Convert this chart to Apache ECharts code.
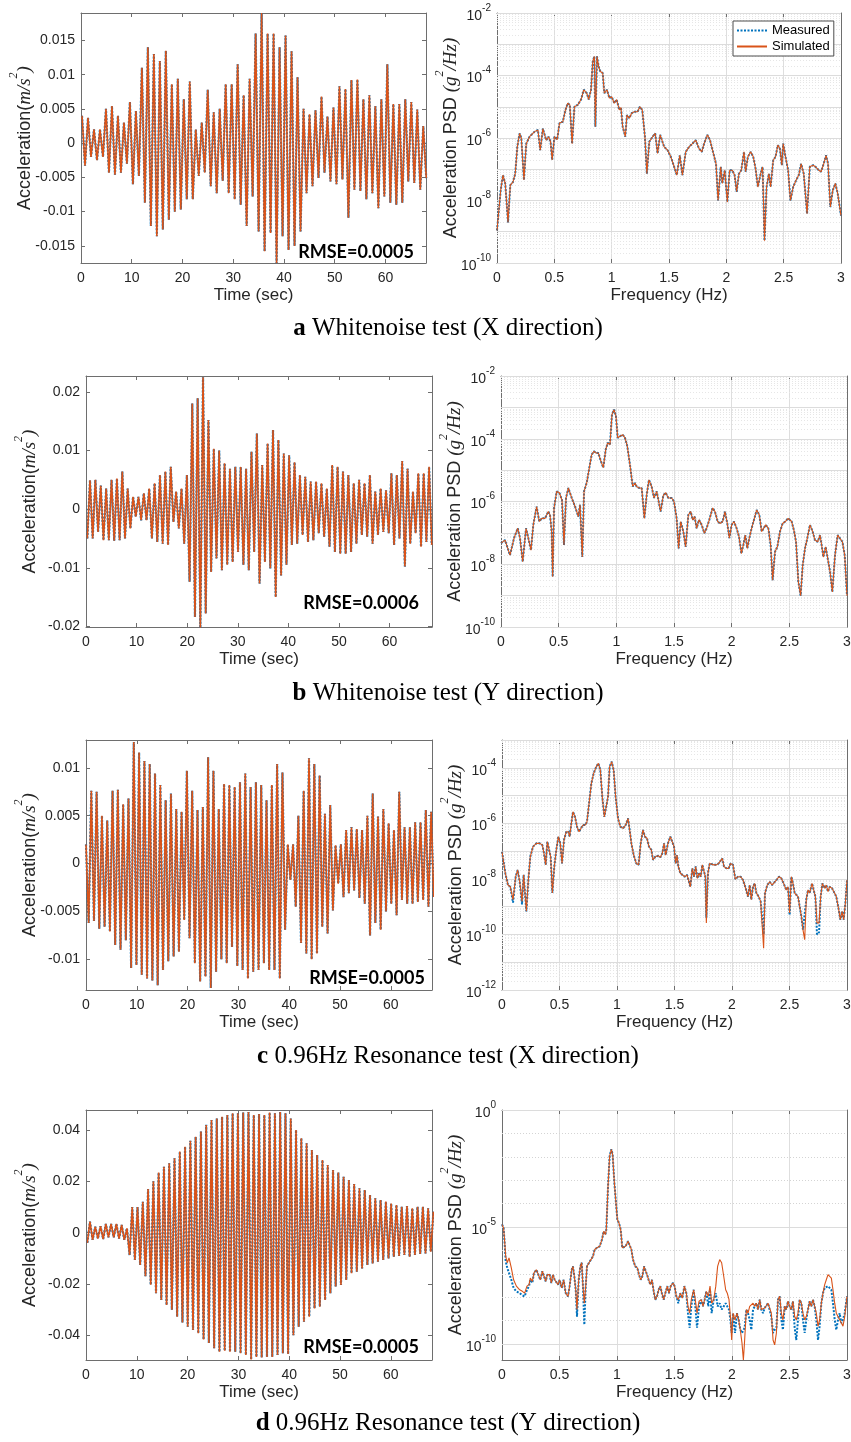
<!DOCTYPE html>
<html lang="en">
<head>
<meta charset="UTF-8">
<title>Measured vs simulated acceleration and PSD</title>
<script src="https://cdn.jsdelivr.net/npm/echarts@6/dist/echarts.min.js"></script>
<style>
    body { margin: 0; background: #ffffff; }
    #main { width: 851px; height: 1442px; }
</style>
</head>
<body>
<div id="main"></div>
<script>
// ---------- data ----------
var timeTicks = [0, 10, 20, 30, 40, 50, 60];
var freqTicks = [0, 0.5, 1, 1.5, 2, 2.5, 3];

// (a) Whitenoise X : alternating peaks of the acceleration record
var aUp = [0.004,0.0037,0.002,0.002,0.005,0.0054,0.004,0.003,0.006,0.0047,0.011,0.014,0.013,0.012,0.0135,0.0086,0.0094,0.0064,0.009,0.002,0.003,0.0078,0.0045,0.005,0.0086,0.0086,0.0115,0.007,0.0094,0.016,0.019,0.016,0.016,0.014,0.0157,0.0134,0.0096,0.005,0.0042,0.0048,0.0068,0.0039,0.0052,0.0083,0.0079,0.0092,0.0093,0.0064,0.007,0.0054,0.0064,0.0115,0.0057,0.0057,0.0064,0.006,0.0049,0.0025];
var aDown = [-0.0033,-0.002,-0.0025,-0.002,-0.0043,-0.0046,-0.0043,-0.003,-0.006,-0.0048,-0.0087,-0.0121,-0.0136,-0.0126,-0.0112,-0.01,-0.0097,-0.0082,-0.0082,-0.0048,-0.0043,-0.0063,-0.0073,-0.0055,-0.0073,-0.0082,-0.009,-0.0121,-0.0078,-0.0129,-0.0158,-0.0131,-0.0175,-0.0136,-0.0156,-0.015,-0.0129,-0.0073,-0.0063,-0.0051,-0.0043,-0.0056,-0.006,-0.0053,-0.0109,-0.0068,-0.007,-0.0082,-0.0073,-0.0095,-0.0078,-0.0087,-0.009,-0.0087,-0.0056,-0.0058,-0.0068,-0.0051];
var aTicksY = [-0.015, -0.01, -0.005, 0, 0.005, 0.01, 0.015];

var psdAFreq = [0,0.032,0.052,0.072,0.096,0.116,0.139,0.159,0.177,0.197,0.212,0.235,0.255,0.284,0.328,0.357,0.377,0.4,0.429,0.449,0.467,0.481,0.501,0.525,0.545,0.574,0.597,0.617,0.635,0.655,0.675,0.704,0.733,0.757,0.783,0.8,0.82,0.835,0.849,0.858,0.872,0.887,0.901,0.922,0.936,0.959,0.98,1.0,1.023,1.043,1.067,1.081,1.096,1.119,1.133,1.154,1.174,1.197,1.226,1.246,1.267,1.29,1.307,1.328,1.357,1.38,1.4,1.423,1.438,1.458,1.487,1.516,1.545,1.568,1.594,1.617,1.646,1.675,1.704,1.733,1.762,1.786,1.806,1.835,1.858,1.887,1.91,1.928,1.951,1.965,1.986,2.009,2.029,2.052,2.072,2.09,2.11,2.13,2.154,2.168,2.188,2.212,2.235,2.255,2.275,2.299,2.316,2.333,2.351,2.371,2.386,2.409,2.429,2.449,2.467,2.484,2.496,2.516,2.539,2.559,2.583,2.609,2.632,2.652,2.675,2.704,2.728,2.757,2.777,2.806,2.826,2.849,2.87,2.887,2.907,2.928,2.951,2.971,3.0];
var psdA = [1.1e-9,2.1e-8,6.5e-8,3.5e-8,2e-9,3.1e-8,3.9e-8,7.2e-8,5.2e-7,1.4e-6,1e-6,4.5e-8,6.6e-7,1.1e-6,1.6e-6,1.8e-6,4.1e-7,2e-6,8.5e-7,1.1e-6,7.6e-7,2e-7,1.1e-6,8.9e-7,3e-6,3.3e-6,7.9e-6,1.3e-5,1.15e-5,6.6e-7,1e-5,1.15e-5,1.7e-5,3.5e-5,2.7e-5,1.7e-5,3.5e-5,2.8e-4,4.1e-4,2.3e-6,4.1e-4,1.9e-4,1.35e-4,1.2e-4,2.7e-5,3.5e-5,1.9e-5,2.1e-5,1.3e-5,1.7e-5,7.9e-6,9.5e-6,2.3e-6,1.1e-6,5.4e-6,4.3e-6,6.2e-6,6.9e-6,6.9e-6,1e-5,7.9e-6,1.1e-6,7.2e-8,7.6e-7,1.1e-6,1.4e-6,3.2e-7,1.26e-6,1.4e-6,5.2e-7,4.1e-7,2.5e-7,1.2e-7,6.5e-8,2.8e-7,6.5e-8,3.6e-7,5.2e-7,6.6e-7,8.5e-7,4.6e-7,3.6e-7,6.6e-7,1.26e-6,8.5e-7,3.2e-7,1.5e-7,1e-8,1.2e-7,3.5e-8,9.3e-8,8.9e-9,9.3e-8,9.3e-8,6.5e-8,1.9e-8,7.2e-8,9.3e-8,3.6e-7,8.3e-8,2.5e-7,3.6e-7,2.5e-7,1.05e-7,2.7e-8,7.2e-8,1.2e-7,5.2e-10,2.7e-8,7.2e-8,2.7e-8,1.95e-7,2.5e-7,5.9e-7,4.6e-7,1.35e-7,6.6e-7,2.5e-7,9.3e-8,1e-8,2.7e-8,4.5e-8,6.5e-8,1.5e-7,7.2e-8,3.8e-9,1.2e-7,1.35e-7,1.2e-7,9.3e-8,8.3e-8,1.5e-7,2.8e-7,1.5e-7,6.2e-9,2.1e-8,3.5e-8,1.7e-8,3.3e-9];

// (b) Whitenoise Y
var bDown = [-0.005,-0.005,-0.0039,-0.0053,-0.0053,-0.0054,-0.0053,-0.005,-0.0033,-0.0013,-0.0019,-0.0019,-0.005,-0.0056,-0.0059,-0.0061,-0.0022,-0.0033,-0.0059,-0.0124,-0.0184,-0.0203,-0.0178,-0.0107,-0.0084,-0.0104,-0.0095,-0.009,-0.0073,-0.0095,-0.0104,-0.0073,-0.0127,-0.009,-0.0101,-0.015,-0.0113,-0.0095,-0.0061,-0.0059,-0.0044,-0.0056,-0.0053,-0.0041,-0.0047,-0.0064,-0.0073,-0.0076,-0.0076,-0.0073,-0.0059,-0.0044,-0.0047,-0.0059,-0.0044,-0.0039,-0.0041,-0.0061,-0.005,-0.0098,-0.0059,-0.0041,-0.0064,-0.0056,-0.0061];
var bUp = [0.0049,0.005,0.004,0.0035,0.005,0.0052,0.0064,0.0035,0.0021,0.0021,0.0027,0.0035,0.0044,0.0058,0.0064,0.0072,0.003,0.0035,0.0058,0.018,0.0189,0.0225,0.0152,0.0103,0.01,0.0078,0.0069,0.0072,0.0072,0.0069,0.0098,0.0129,0.0075,0.0112,0.0135,0.0118,0.0095,0.0092,0.008,0.0058,0.0055,0.0047,0.0047,0.0044,0.0035,0.0075,0.0072,0.0064,0.0058,0.0044,0.005,0.0044,0.0058,0.003,0.0035,0.0032,0.0061,0.0058,0.0082,0.0069,0.003,0.0061,0.0061,0.0072];
var bTicksY = [-0.02, -0.01, 0, 0.01, 0.02];

var psdBFreq = [0,0.035,0.078,0.113,0.145,0.165,0.188,0.217,0.237,0.26,0.28,0.309,0.332,0.353,0.382,0.41,0.425,0.439,0.448,0.46,0.483,0.506,0.529,0.546,0.564,0.584,0.613,0.642,0.671,0.685,0.705,0.72,0.743,0.766,0.786,0.806,0.824,0.844,0.867,0.887,0.908,0.925,0.945,0.962,0.98,0.997,1.012,1.032,1.055,1.075,1.095,1.118,1.142,1.162,1.176,1.197,1.22,1.243,1.263,1.283,1.306,1.327,1.35,1.364,1.384,1.408,1.428,1.451,1.48,1.5,1.523,1.54,1.558,1.581,1.601,1.624,1.645,1.662,1.679,1.696,1.717,1.74,1.763,1.783,1.806,1.835,1.855,1.879,1.899,1.922,1.942,1.962,1.98,2.0,2.02,2.043,2.064,2.084,2.101,2.118,2.136,2.153,2.173,2.197,2.217,2.24,2.26,2.275,2.295,2.318,2.338,2.355,2.376,2.396,2.419,2.442,2.465,2.49,2.52,2.54,2.558,2.578,2.598,2.616,2.636,2.656,2.679,2.702,2.722,2.746,2.766,2.78,2.795,2.815,2.832,2.853,2.873,2.896,2.919,2.936,2.96,2.98,3.0];
var psdB = [4.7e-8,5.9e-8,1.95e-8,6.8e-8,1.4e-7,6.8e-8,1.2e-8,1.4e-7,6.8e-8,2.8e-8,1.8e-7,6.9e-7,2.3e-7,2.9e-7,2.9e-7,4.8e-7,3.7e-7,1.1e-7,4e-9,6.2e-7,2.1e-6,1.9e-6,1.1e-6,4.1e-8,1.3e-6,2.7e-6,1.3e-6,6.9e-7,3.3e-7,7.8e-7,1.7e-8,2.1e-6,3.9e-6,1.2e-5,3.1e-5,4e-5,3.5e-5,3.5e-5,1.9e-5,1.2e-5,4.5e-5,7.4e-5,6.5e-5,5.9e-4,8.5e-4,5.2e-4,1.07e-4,1.2e-4,1.35e-4,1.07e-4,5.8e-5,1.5e-5,3e-6,3.9e-6,3e-6,2.7e-6,2.7e-6,2.9e-7,1.6e-6,4.9e-6,3e-6,1.3e-6,2.1e-6,1.9e-6,4.8e-7,1.6e-6,1.9e-6,1.3e-6,1.3e-6,1e-6,2.9e-7,3.2e-8,2.3e-7,1.1e-7,3.6e-8,3.7e-7,4.8e-7,2.6e-7,3.3e-7,1.4e-7,2.6e-7,1.8e-7,9.8e-8,1.4e-7,2.6e-7,6.2e-7,4.8e-7,2.3e-7,2e-7,2.3e-7,4.8e-7,2e-7,6.8e-8,1.8e-7,2.3e-7,1.4e-7,7.6e-8,2.2e-8,4.1e-8,8.5e-8,3.2e-8,6.8e-8,1.4e-7,2.9e-7,5.4e-7,3.7e-7,1.1e-7,9.8e-8,1.8e-7,1.4e-7,4.1e-8,3.1e-9,2.5e-8,3.6e-8,1.1e-7,2e-7,2.3e-7,2.9e-7,2.3e-7,1.2e-7,5.2e-8,2.8e-9,1e-9,9.3e-9,3.2e-8,6.8e-8,1.8e-7,1.1e-7,5.9e-8,5.2e-8,8.5e-8,4.1e-8,1.7e-8,3.6e-8,3.2e-8,5.8e-9,1.3e-9,1.95e-8,8.5e-8,8.5e-8,5.2e-8,1.95e-8,1e-9];

// (c) 0.96 Hz resonance X
var cUp = [0.002,0.0076,0.0075,0.005,0.0045,0.0076,0.0077,0.0062,0.0068,0.0127,0.0116,0.0107,0.0104,0.0094,0.0082,0.0066,0.0073,0.0057,0.0054,0.0097,0.0076,0.0056,0.0059,0.0111,0.0097,0.0057,0.0083,0.0082,0.008,0.0085,0.0094,0.008,0.0085,0.0082,0.0066,0.0082,0.0104,0.0095,0.002,0.002,0.005,0.0076,0.011,0.0104,0.0092,0.0052,0.0061,0.0019,0.002,0.0035,0.0038,0.0036,0.0035,0.005,0.0073,0.0049,0.0057,0.0042,0.0035,0.0075,0.0038,0.0038,0.0043,0.0043,0.0056,0.0054];
var cDown = [-0.0062,-0.006,-0.0068,-0.0066,-0.0071,-0.0085,-0.009,-0.008,-0.0109,-0.0106,-0.0116,-0.012,-0.0122,-0.0127,-0.0111,-0.0102,-0.0097,-0.0092,-0.0059,-0.0078,-0.0104,-0.0123,-0.0118,-0.013,-0.0113,-0.01,-0.0104,-0.0087,-0.0107,-0.0111,-0.012,-0.0113,-0.0111,-0.0104,-0.0111,-0.0111,-0.012,-0.0069,-0.0017,-0.0045,-0.0083,-0.0094,-0.01,-0.0094,-0.0066,-0.0073,-0.0049,-0.0021,-0.0035,-0.0031,-0.0028,-0.0036,-0.0042,-0.0075,-0.0062,-0.0069,-0.005,-0.0042,-0.0054,-0.0038,-0.0042,-0.0042,-0.004,-0.0038,-0.0045,-0.0035];
var cTicksY = [-0.01, -0.005, 0, 0.005, 0.01];

var psdCFreq = [0,0.014,0.029,0.052,0.072,0.096,0.119,0.136,0.154,0.174,0.188,0.212,0.229,0.246,0.27,0.299,0.328,0.351,0.365,0.38,0.394,0.409,0.423,0.438,0.455,0.472,0.49,0.507,0.522,0.539,0.559,0.577,0.588,0.603,0.617,0.635,0.652,0.67,0.687,0.704,0.725,0.739,0.757,0.777,0.797,0.82,0.838,0.855,0.872,0.89,0.904,0.922,0.936,0.954,0.971,0.988,1.009,1.029,1.052,1.075,1.096,1.11,1.125,1.145,1.168,1.188,1.206,1.226,1.243,1.261,1.278,1.299,1.313,1.333,1.357,1.377,1.394,1.409,1.423,1.443,1.464,1.481,1.496,1.51,1.522,1.533,1.551,1.568,1.588,1.609,1.626,1.638,1.655,1.67,1.684,1.699,1.713,1.728,1.742,1.757,1.768,1.777,1.791,1.806,1.82,1.841,1.864,1.884,1.901,1.916,1.93,1.951,1.971,1.988,2.009,2.029,2.052,2.075,2.096,2.119,2.139,2.154,2.168,2.183,2.197,2.212,2.232,2.249,2.264,2.275,2.287,2.307,2.328,2.348,2.365,2.386,2.409,2.429,2.449,2.472,2.487,2.501,2.516,2.53,2.545,2.559,2.574,2.588,2.603,2.617,2.632,2.646,2.661,2.675,2.696,2.71,2.725,2.739,2.757,2.771,2.786,2.806,2.82,2.835,2.849,2.87,2.887,2.907,2.928,2.942,2.957,2.971,2.986,3.0];
var psdCSim = [9.5e-8,8.3e-8,1.6e-8,6e-9,5.2e-9,1.8e-9,1.2e-8,2.1e-8,7.9e-9,1.55e-9,1.4e-8,6.8e-10,9.1e-9,6.3e-8,1.45e-7,1.9e-7,1.9e-7,1.65e-7,8.3e-8,3.2e-8,2.2e-7,2.2e-7,6.3e-8,3.1e-9,2.8e-8,1.1e-7,3.3e-7,1.9e-7,3.6e-8,2.5e-7,5e-7,5e-7,3.3e-7,1e-6,2.6e-6,1.7e-6,7.6e-7,5e-7,6.6e-7,8.7e-7,8.7e-7,1.15e-6,5.2e-6,2.75e-5,6.3e-5,1.1e-4,1.45e-4,8.3e-5,9.1e-6,1.7e-6,2e-6,9.1e-6,1.1e-4,1.65e-4,8.3e-5,9.1e-6,1.5e-6,7.6e-7,6.6e-7,8.7e-7,1.5e-6,5.8e-7,1.9e-7,7.2e-8,3.6e-8,3.2e-8,1.9e-7,5.8e-7,3.3e-7,2.9e-7,1.45e-7,1.1e-7,4.8e-8,6.3e-8,6.8e-8,6e-8,8.3e-8,1.9e-7,7.2e-8,1.9e-7,3.3e-7,2.9e-7,1.45e-7,3.6e-8,7.2e-8,2.8e-8,1.6e-8,1.8e-8,1.2e-8,1.4e-8,7.9e-9,5.2e-9,2.4e-8,1.2e-8,2.8e-8,1.05e-8,1.6e-8,1.2e-8,3.2e-8,3.6e-8,1.2e-8,2.6e-10,1.6e-8,3.6e-8,4.2e-8,3.2e-8,3.2e-8,3.6e-8,4.2e-8,5.5e-8,2.8e-8,2.4e-8,2.4e-8,3.6e-8,3.2e-8,9.8e-9,1.2e-8,1.2e-8,9.1e-9,4.6e-9,2.3e-9,6e-9,1.8e-9,5.2e-9,6.9e-9,3.1e-9,2.3e-9,1.55e-9,1.35e-9,3.2e-11,3.1e-9,6e-9,7.9e-9,6e-9,6.9e-9,9.1e-9,1.2e-8,1.05e-8,6.9e-9,4e-9,5.2e-9,5.9e-10,1.2e-8,6.9e-9,3.1e-9,3.1e-9,2.3e-9,2.3e-9,4.5e-10,1.5e-10,6.5e-11,1.8e-9,4e-9,3.1e-9,6.9e-9,4e-9,2.3e-9,2.6e-10,2.6e-10,2.3e-9,6.9e-9,4.6e-9,6e-9,3.5e-9,5.2e-9,4.6e-9,5.2e-9,2.3e-9,7.8e-10,3.4e-10,6.8e-10,3.4e-10,1.35e-9,9.1e-9];
var psdCMeas = [9.5e-8,8.3e-8,1.6e-8,6e-9,5.2e-9,1.4e-9,1.2e-8,2.1e-8,7.9e-9,1.2e-9,1.4e-8,6.8e-10,9.1e-9,6.3e-8,1.45e-7,1.9e-7,1.9e-7,1.65e-7,8.3e-8,3.2e-8,2.2e-7,2.2e-7,6.3e-8,3.1e-9,2.8e-8,1.1e-7,3.3e-7,1.9e-7,3.6e-8,2.5e-7,5e-7,5e-7,3.3e-7,1e-6,2.6e-6,1.7e-6,7.6e-7,5e-7,6.6e-7,8.7e-7,8.7e-7,1.15e-6,5.2e-6,2.75e-5,6.3e-5,1.1e-4,1.45e-4,8.3e-5,9.1e-6,1.7e-6,2e-6,9.1e-6,1.1e-4,1.65e-4,8.3e-5,9.1e-6,1.5e-6,7.6e-7,6.6e-7,8.7e-7,1.5e-6,5.8e-7,1.9e-7,7.2e-8,3.6e-8,3.2e-8,1.9e-7,5.8e-7,3.3e-7,2.9e-7,1.45e-7,1.1e-7,4.8e-8,6.3e-8,6.8e-8,6e-8,8.3e-8,1.9e-7,7.2e-8,1.9e-7,3.3e-7,2.9e-7,1.45e-7,3.6e-8,7.2e-8,2.8e-8,1.6e-8,1.8e-8,1.2e-8,1.4e-8,7.9e-9,5.2e-9,2.4e-8,1.2e-8,2.8e-8,1.05e-8,1.6e-8,1.2e-8,3.2e-8,3.6e-8,1.2e-8,4e-10,1.6e-8,3.6e-8,4.2e-8,3.2e-8,3.2e-8,3.6e-8,4.2e-8,5.5e-8,2.8e-8,2.4e-8,2.4e-8,3.6e-8,3.2e-8,9.8e-9,1.2e-8,1.2e-8,9.1e-9,4.6e-9,2.3e-9,6e-9,1.8e-9,5.2e-9,6.9e-9,3.1e-9,2.3e-9,1.55e-9,1.35e-9,1e-10,3.1e-9,6e-9,7.9e-9,6e-9,6.9e-9,9.1e-9,1.2e-8,1.05e-8,6.9e-9,4e-9,5.2e-9,5e-10,1.2e-8,6.9e-9,3.1e-9,3.1e-9,2.3e-9,2.3e-9,4.5e-10,1.5e-10,1.5e-10,1.8e-9,4e-9,3.1e-9,6.9e-9,4e-9,2.3e-9,1e-10,1.2e-10,2.3e-9,6.9e-9,4.6e-9,6e-9,3.5e-9,5.2e-9,4.6e-9,5.2e-9,2.3e-9,7.8e-10,3.4e-10,6.8e-10,3.4e-10,1.35e-9,9.1e-9];

// (d) 0.96 Hz resonance Y
var dDown = [-0.004,-0.0028,-0.0023,-0.0025,-0.0018,-0.0018,-0.0023,-0.0028,-0.0087,-0.0106,-0.0126,-0.017,-0.0203,-0.0236,-0.0262,-0.0282,-0.03,-0.0327,-0.035,-0.0366,-0.0379,-0.0392,-0.0416,-0.043,-0.045,-0.0464,-0.046,-0.0464,-0.0464,-0.047,-0.0476,-0.0494,-0.0484,-0.0486,-0.0484,-0.0484,-0.0476,-0.047,-0.0473,-0.04,-0.0366,-0.0347,-0.0327,-0.0295,-0.0288,-0.0262,-0.0236,-0.021,-0.0204,-0.0184,-0.0158,-0.0152,-0.0139,-0.0126,-0.012,-0.0113,-0.0106,-0.01,-0.0094,-0.0091,-0.0087,-0.0094,-0.0087,-0.0083,-0.0081,-0.0074];
var dUp = [0.0043,0.0023,0.0025,0.0034,0.0034,0.0034,0.003,0.0017,0.01,0.01,0.012,0.017,0.02,0.0234,0.0257,0.027,0.029,0.0316,0.0335,0.0358,0.0374,0.0394,0.042,0.0439,0.0445,0.0452,0.0458,0.0465,0.0465,0.0468,0.047,0.0458,0.0462,0.0458,0.0468,0.0465,0.047,0.0465,0.0445,0.04,0.0368,0.0348,0.0322,0.0303,0.0283,0.0264,0.0244,0.0234,0.0218,0.0205,0.019,0.0173,0.0166,0.0147,0.0134,0.0127,0.0121,0.0114,0.0108,0.0101,0.0104,0.0095,0.0101,0.0101,0.0095,0.0082];
var dTicksY = [-0.04, -0.02, 0, 0.02, 0.04];

var psdDFreq = [0,0.014,0.023,0.032,0.046,0.061,0.081,0.101,0.125,0.154,0.177,0.197,0.217,0.235,0.246,0.264,0.278,0.299,0.316,0.333,0.351,0.365,0.38,0.394,0.414,0.429,0.443,0.458,0.472,0.487,0.501,0.519,0.536,0.554,0.574,0.588,0.606,0.617,0.629,0.641,0.652,0.667,0.681,0.693,0.704,0.716,0.728,0.739,0.757,0.774,0.791,0.806,0.826,0.849,0.87,0.884,0.899,0.907,0.922,0.936,0.951,0.962,0.977,0.991,1.003,1.017,1.032,1.046,1.061,1.075,1.096,1.11,1.125,1.139,1.159,1.177,1.191,1.206,1.22,1.235,1.246,1.261,1.275,1.29,1.304,1.319,1.333,1.348,1.362,1.377,1.39,1.406,1.42,1.438,1.452,1.467,1.487,1.501,1.516,1.533,1.551,1.568,1.586,1.603,1.617,1.632,1.646,1.667,1.681,1.696,1.713,1.733,1.748,1.762,1.777,1.794,1.809,1.823,1.841,1.859,1.875,1.893,1.91,1.928,1.945,1.959,1.974,1.986,1.997,2.009,2.026,2.043,2.058,2.072,2.087,2.099,2.11,2.125,2.139,2.154,2.168,2.183,2.197,2.212,2.226,2.241,2.255,2.27,2.284,2.299,2.313,2.328,2.342,2.357,2.371,2.386,2.4,2.415,2.429,2.443,2.458,2.472,2.487,2.501,2.516,2.53,2.545,2.559,2.574,2.588,2.603,2.617,2.632,2.646,2.661,2.675,2.69,2.704,2.719,2.733,2.748,2.762,2.777,2.791,2.806,2.82,2.835,2.849,2.864,2.878,2.893,2.907,2.922,2.936,2.951,2.965,2.98,3.0];
var psdDSim = [1.3e-5,9.1e-6,2.5e-6,5.6e-7,3e-7,4.8e-7,1.8e-7,5.6e-8,3e-8,2.1e-8,1.8e-8,1.5e-8,3e-8,3.5e-8,6.6e-8,4.8e-8,1.1e-7,1.5e-7,9.3e-8,5.6e-8,1.3e-7,1.1e-7,4.8e-8,9.3e-8,9.3e-8,4.1e-8,9.3e-8,5.6e-8,6.6e-8,3.5e-8,5.6e-8,2.5e-8,5.6e-8,1.5e-8,1.1e-8,3e-8,1.5e-7,2.1e-7,7.9e-8,2.1e-8,3e-9,5.6e-8,2.1e-7,3e-7,3e-8,5.6e-9,3e-8,2.1e-7,3e-7,3e-7,5.6e-7,1.1e-6,1.3e-6,1.5e-6,3e-6,6.6e-6,4.8e-6,7.8e-6,5.6e-4,1.07e-2,2.1e-2,1.26e-2,7.8e-4,1.07e-4,2.1e-5,1.5e-5,7.8e-6,1.3e-6,1.1e-6,1.5e-6,2.5e-6,2.1e-6,1.1e-6,4.1e-7,2.1e-7,1.8e-7,9.3e-8,5.6e-8,7.9e-8,2.1e-7,2.5e-7,9.3e-8,5.6e-8,3.5e-8,5.6e-8,1.8e-8,7.9e-9,1.1e-8,2.1e-8,3e-8,1.5e-8,7.9e-9,1.5e-8,3e-8,1.5e-8,3e-8,4.1e-8,3e-8,1.1e-8,7.9e-9,1.5e-8,9.3e-9,3e-8,1.5e-8,4.1e-9,2.1e-9,7.9e-9,2.1e-8,7.9e-9,2.1e-9,6.8e-9,7.9e-9,4.1e-9,7.9e-9,1.8e-8,1.1e-8,3e-8,5.6e-9,7.9e-9,3e-8,2.1e-7,4.1e-7,3e-7,7.9e-8,2.1e-8,1.5e-8,7.9e-9,1.5e-9,1.5e-10,2.1e-9,1.1e-9,2.1e-9,1.1e-9,4.1e-10,1.1e-10,2.1e-11,1.5e-10,3e-9,2.1e-9,4.1e-9,3.5e-9,5.6e-9,4.1e-9,5.6e-9,3e-9,7.9e-9,3e-9,3e-9,3.5e-9,3e-9,5.6e-9,5.6e-9,2.1e-9,1.5e-10,9.3e-11,3e-10,7.9e-9,1.1e-8,2.1e-9,1.1e-9,4.1e-9,3e-9,6.8e-9,4.1e-9,3e-9,6.8e-9,1.5e-9,1.1e-9,2.1e-9,7.9e-9,5.6e-9,2.1e-9,1.1e-9,1.5e-9,3e-9,6.8e-9,4.1e-9,7.9e-9,4.1e-9,2.1e-9,5.8e-10,1.1e-9,5.6e-9,1.5e-8,3.5e-8,5.6e-8,9.3e-8,1.1e-7,6.6e-8,2.1e-8,5.6e-9,2.1e-9,2.1e-9,1.1e-9,7.9e-10,5.8e-10,1.5e-9,1.1e-8];
var psdDMeas = [1.3e-5,9.1e-6,2.1e-6,3.5e-7,1.8e-7,1.8e-7,5.6e-8,2.5e-8,1.8e-8,1.5e-8,1.2e-8,1.1e-8,2.1e-8,3e-8,5.6e-8,4.1e-8,1.1e-7,1.5e-7,9.3e-8,5.6e-8,1.3e-7,1.1e-7,4.8e-8,9.3e-8,9.3e-8,4.1e-8,9.3e-8,5.6e-8,6.6e-8,3.5e-8,5.6e-8,2.5e-8,5.6e-8,1.5e-8,1.1e-8,3e-8,1.5e-7,2.1e-7,7.9e-8,2.1e-8,1.5e-9,5.6e-8,2.1e-7,3e-7,3e-8,6.8e-10,3e-8,2.1e-7,3e-7,3e-7,5.6e-7,1.1e-6,1.3e-6,1.5e-6,3e-6,6.6e-6,4.8e-6,7.8e-6,5.6e-4,1.07e-2,2.1e-2,1.26e-2,7.8e-4,1.07e-4,2.1e-5,1.5e-5,7.8e-6,1.3e-6,1.1e-6,1.5e-6,2.5e-6,2.1e-6,1.1e-6,4.1e-7,2.1e-7,1.8e-7,9.3e-8,5.6e-8,7.9e-8,2.1e-7,2.5e-7,9.3e-8,5.6e-8,3.5e-8,5.6e-8,1.8e-8,7.9e-9,1.1e-8,2.1e-8,3e-8,1.5e-8,7.9e-9,1.5e-8,3e-8,1.5e-8,3e-8,4.1e-8,3e-8,1.1e-8,5.6e-9,1.5e-8,9.3e-9,3e-8,1.5e-8,2.1e-9,5e-10,4.1e-9,2.1e-8,4.1e-9,5e-10,4.1e-9,7.9e-9,4.1e-9,7.9e-9,1.8e-8,4.1e-9,2.1e-8,2.1e-9,7.9e-9,1.5e-8,4.1e-9,5.6e-9,3e-9,4.1e-9,5.6e-9,4.1e-9,3e-9,1.1e-9,3e-10,2.1e-9,3e-10,2.1e-9,1.1e-9,4.1e-10,3e-10,3e-10,5e-10,3e-9,2.1e-9,1.1e-9,4.1e-10,3e-9,4.1e-9,5.6e-9,3e-9,7.9e-9,3e-9,2.1e-9,3.5e-9,3e-9,5.6e-9,5.6e-9,1.5e-9,3e-10,4.1e-10,5e-10,7.9e-9,1.1e-8,1.1e-9,4.1e-10,4.1e-9,3e-9,6.8e-9,4.1e-9,3e-9,6.8e-9,5e-10,1.5e-10,1.1e-9,7.9e-9,5.6e-9,1.1e-9,3e-10,1.1e-9,3e-9,6.8e-9,4.1e-9,7.9e-9,4.1e-9,1.1e-9,1.5e-10,5.8e-10,5.6e-9,1.5e-8,2.5e-8,3e-8,3e-8,3.5e-8,2.1e-8,5.6e-9,1.1e-9,4.1e-10,1.1e-9,2.1e-9,7.9e-10,1.1e-9,2.1e-9,1.1e-8];

// ---------- chart ----------
var BLUE = '#0072BD', ORANGE = '#D95319', AX = '#6e6e6e', TXT = '#262626';
var chart = echarts.init(document.getElementById('main'), null, { renderer: 'canvas' });

// turn two lists of alternating extremes into a time series
function wave(start, half, first, second) {
    var out = [];
    var n = Math.max(first.length, second.length);
    for (var i = 0; i < n; i++) {
        if (i < first.length) out.push([start + 2 * i * half, first[i]]);
        if (i < second.length) out.push([start + (2 * i + 1) * half, second[i]]);
    }
    return out;
}
function pairs(xs, ys) {
    return xs.map(function (x, i) { return [x, ys[i]]; });
}

var grids = [
    { left: 81, top: 13, width: 345, height: 250 },
    { left: 497, top: 13, width: 344, height: 250 },
    { left: 86, top: 376, width: 346, height: 251 },
    { left: 501, top: 376, width: 346, height: 251 },
    { left: 86, top: 740, width: 346, height: 250 },
    { left: 502, top: 740, width: 345, height: 250 },
    { left: 86, top: 1110, width: 346, height: 250 },
    { left: 502, top: 1110, width: 345, height: 250 }
].map(function (g) { g.containLabel = false; g.outerBoundsMode = 'none'; return g; });

var panels = [
    { kind: 'time', xmax: 68, ymin: -0.0175, ymax: 0.019, yTicks: aTicksY, meas: wave(0.2, 0.59, aUp, aDown) },
    { kind: 'psd', ymin: 1e-10, ymax: 1e-2, labels: [-10, -8, -6, -4, -2], meas: pairs(psdAFreq, psdA), sim: pairs(psdAFreq, psdA) },
    { kind: 'time', xmax: 68.4, ymin: -0.0201, ymax: 0.0227, yTicks: bTicksY, meas: wave(0.26, 0.532, bDown, bUp) },
    { kind: 'psd', ymin: 1e-10, ymax: 1e-2, labels: [-10, -8, -6, -4, -2], meas: pairs(psdBFreq, psdB), sim: pairs(psdBFreq, psdB) },
    { kind: 'time', xmax: 68.1, ymin: -0.0132, ymax: 0.0129, yTicks: cTicksY, meas: wave(0.0, 0.5225, cUp, cDown) },
    { kind: 'psd', ymin: 1e-12, ymax: 1e-3, labels: [-12, -10, -8, -6, -4], meas: pairs(psdCFreq, psdCMeas), sim: pairs(psdCFreq, psdCSim) },
    { kind: 'time', xmax: 68.1, ymin: -0.0496, ymax: 0.0478, yTicks: dTicksY, meas: wave(0.26, 0.52, dDown, dUp) },
    { kind: 'psd', ymin: 2.1e-11, ymax: 1, labels: [-10, -5, 0], coarse: true, meas: pairs(psdDFreq, psdDMeas), sim: pairs(psdDFreq, psdDSim) }
];

var nameStyle = {
    fontFamily: 'Liberation Sans', fontSize: 18, color: TXT,
    rich: {
        t: { fontFamily: 'Liberation Sans', fontSize: 18, color: TXT, lineHeight: 26, verticalAlign: 'bottom' },
        m: { fontFamily: 'Liberation Serif', fontStyle: 'italic', fontSize: 19, color: TXT, lineHeight: 26, verticalAlign: 'bottom' },
        s: { fontFamily: 'Liberation Serif', fontStyle: 'italic', fontSize: 12, color: TXT, verticalAlign: 'top' }
    }
};
var tickFont = { fontFamily: 'Liberation Sans', fontSize: 14, color: TXT };

var xAxes = [], yAxes = [], series = [];

panels.forEach(function (p, gi) {
    var isTime = p.kind === 'time';
    var xmax = isTime ? p.xmax : 3;
    var xt = isTime ? timeTicks : freqTicks;
    [false, true].forEach(function (mirror) {
        xAxes.push({
            type: 'value', gridIndex: gi, position: mirror ? 'top' : 'bottom',
            min: 0, max: xmax, interval: isTime ? 10 : 0.5,
            axisLine: { show: true, onZero: false, lineStyle: { color: AX, width: 1 } },
            axisTick: { show: true, inside: true, length: 4, customValues: xt, lineStyle: { color: AX } },
            axisLabel: Object.assign({ show: !mirror, customValues: xt, margin: 8 }, tickFont),
            splitLine: { show: !isTime && !mirror, lineStyle: { color: '#dedede', width: 1 } },
            name: mirror ? '' : (isTime ? 'Time (sec)' : 'Frequency (Hz)'),
            nameLocation: 'middle', nameGap: 24, nameMoveOverlap: false,
            nameTextStyle: { fontFamily: 'Liberation Sans', fontSize: 17, color: TXT }
        });
        var y = {
            type: isTime ? 'value' : 'log', gridIndex: gi, position: mirror ? 'right' : 'left',
            min: p.ymin, max: p.ymax,
            axisLine: { show: true, onZero: false, lineStyle: { color: AX, width: 1 } },
            splitLine: { show: false },
            nameLocation: 'middle', nameRotate: 90, nameMoveOverlap: false,
            nameTextStyle: nameStyle
        };
        if (isTime) {
            y.axisTick = { show: true, inside: true, length: 4, customValues: p.yTicks, lineStyle: { color: AX } };
            y.axisLabel = Object.assign({ show: !mirror, customValues: p.yTicks, margin: 6 }, tickFont);
            y.name = mirror ? '' : '{t|Acceleration(}{m|m/s}{s|2}{m|)}';
            y.nameGap = 47;
        } else {
            var lv = p.labels.map(function (e) { return Math.pow(10, e); });
            y.logBase = 10;
            y.axisTick = { show: true, inside: true, length: 4, customValues: lv, lineStyle: { color: AX } };
            y.axisLabel = Object.assign({
                show: !mirror, customValues: lv, margin: 6,
                formatter: function (v) { return '{b|10}{s|' + Math.round(Math.log10(v)) + '}'; },
                rich: {
                    b: { fontFamily: 'Liberation Sans', fontSize: 14, color: TXT, lineHeight: 20, verticalAlign: 'bottom' },
                    s: { fontFamily: 'Liberation Sans', fontSize: 10, color: TXT, verticalAlign: 'top' }
                }
            }, tickFont);
            y.name = mirror ? '' : '{t|Acceleration PSD }{m|(g}{s|2}{m|/Hz)}';
            y.nameGap = 37;
        }
        yAxes.push(y);
    });

    var xi = 2 * gi;
    if (!isTime) {
        // MATLAB-like log grid: solid at decades, faint dotted minor lines
        var lines = [];
        var lo = Math.ceil(Math.log10(p.ymin) - 1e-9), hi = Math.round(Math.log10(p.ymax));
        for (var k = lo; k <= hi; k++) {
            var major = p.coarse ? p.labels.indexOf(k) >= 0 : true;
            lines.push({ yAxis: Math.pow(10, k), lineStyle: major ? { color: '#dcdcdc', type: 'solid', width: 1 } : { color: '#d4d4d4', type: [1, 2], width: 1 } });
            if (!p.coarse && k < hi) {
                for (var m = 2; m <= 9; m++) {
                    lines.push({ yAxis: m * Math.pow(10, k), lineStyle: { color: '#e6e6e6', type: [1, 2], width: 1 } });
                }
            }
        }
        series.push({
            type: 'line', xAxisIndex: xi, yAxisIndex: xi, data: [], silent: true, z: 1,
            markLine: { silent: true, z: 1, symbol: ['none', 'none'], animation: false, precision: 20, label: { show: false },
                emphasis: { disabled: true }, data: lines }
        });
    }
    series.push({
        type: 'line', name: 'Measured', xAxisIndex: xi, yAxisIndex: xi, data: p.meas,
        symbol: 'none', showSymbol: false, silent: true, z: 2,
        lineStyle: { color: BLUE, width: isTime ? 2.2 : 2, type: [2, 1.5] }, itemStyle: { color: BLUE }
    });
    series.push({
        type: 'line', name: 'Simulated', xAxisIndex: xi, yAxisIndex: xi, data: isTime ? p.meas : p.sim,
        symbol: 'none', showSymbol: false, silent: true, z: 3,
        lineStyle: { color: ORANGE, width: isTime ? 1.6 : 1.1 }, itemStyle: { color: ORANGE }
    });
});

var titleRich = { b: { fontFamily: 'Liberation Serif', fontSize: 25, fontWeight: 'bold', color: '#000' } };
function caption(text, top) {
    return {
        text: text, left: 448, top: top, textAlign: 'center', padding: 0,
        textStyle: { fontFamily: 'Liberation Serif', fontSize: 25, fontWeight: 'normal', color: '#000', rich: titleRich }
    };
}
function rmse(text, x, y) {
    return {
        type: 'text', x: x, y: y, silent: true, z: 10,
        style: { text: text, fill: '#000', font: 'bold 18px Lato', textAlign: 'center', textVerticalAlign: 'middle', align: 'center', verticalAlign: 'middle' }
    };
}

chart.setOption({
    animation: false,
    backgroundColor: '#ffffff',
    title: [
        caption('{b|a} Whitenoise test (X direction)', 316),
        caption('{b|b} Whitenoise test (Y direction)', 681),
        caption('{b|c} 0.96Hz Resonance test (X direction)', 1044),
        caption('{b|d} 0.96Hz Resonance test (Y direction)', 1411)
    ],
    legend: {
        data: ['Measured', 'Simulated'], orient: 'vertical', left: 733, top: 21, z: 20,
        itemWidth: 30, itemHeight: 12, itemGap: 3, itemTextGap: 4, padding: [3, 4, 3, 3],
        borderColor: '#4d4d4d', borderWidth: 1, backgroundColor: '#ffffff', selectedMode: false,
        itemStyle: { color: 'rgba(0,0,0,0)', borderWidth: 0, opacity: 0 },
        textStyle: { fontFamily: 'Liberation Sans', fontSize: 13, color: '#000' }
    },
    grid: grids,
    xAxis: xAxes,
    yAxis: yAxes,
    series: series,
    graphic: [
        rmse('RMSE=0.0005', 356, 252),
        rmse('RMSE=0.0006', 361, 603),
        rmse('RMSE=0.0005', 367, 978),
        rmse('RMSE=0.0005', 361, 1347)
    ]
});
</script>
</body>
</html>
